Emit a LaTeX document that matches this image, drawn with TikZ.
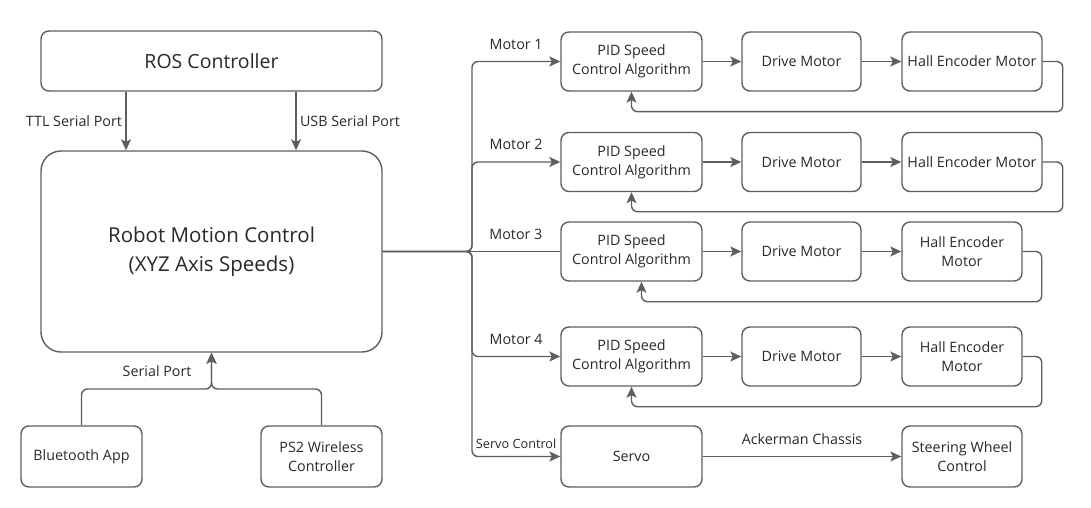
\documentclass[tikz,border=0pt]{standalone}
\usepackage{fontspec}
\setmainfont{Open Sans}
\usepackage{tikz}
\usetikzlibrary{arrows.meta}
\definecolor{linegray}{RGB}{94,94,94}
\definecolor{textgray}{RGB}{40,40,40}

\begin{document}
\begin{tikzpicture}[x=1pt,y=-1pt,
box/.style={draw=linegray,line width=1.4pt,rounded corners=8pt,align=center,text=textgray,inner sep=0pt,font=\fontsize{14.3}{18.7}\selectfont},
bigbox/.style={box,minimum width=341pt,font=\fontsize{19.5}{29}\selectfont},
pidbox/.style={box,minimum width=141pt,minimum height=59pt},
drvbox/.style={box,minimum width=119pt,minimum height=59pt},
arr/.style={draw=linegray,line width=1.4pt,-{Stealth[length=11pt,width=10pt,inset=2.5pt]}},
lbl/.style={text=textgray,font=\fontsize{14.3}{17}\selectfont}]
\useasboundingbox(0,0)rectangle(1091,508);
\node[bigbox,minimum height=60pt](ros)at(211.5,61){ROS Controller};
\node[bigbox,minimum height=201pt,rounded corners=20pt,font=\fontsize{20.5}{29}\selectfont](rmc)at(211.5,251.5){Robot Motion Control\\(XYZ Axis Speeds)};
\node[box,minimum width=121pt,minimum height=61pt](bt)at(81.5,456.5){Bluetooth App};
\node[box,minimum width=121pt,minimum height=61pt](ps2)at(321.5,456.5){PS2 Wireless\\Controller};
\node[pidbox](pid1)at(631.5,61.5){PID Speed\\Control Algorithm};
\node[pidbox](pid2)at(631.5,162){PID Speed\\Control Algorithm};
\node[pidbox](pid3)at(631.5,251.5){PID Speed\\Control Algorithm};
\node[pidbox](pid4)at(631.5,356.5){PID Speed\\Control Algorithm};
\node[drvbox](drv1)at(801.5,61.5){Drive Motor};
\node[drvbox](drv2)at(801.5,162){Drive Motor};
\node[drvbox](drv3)at(801.5,251.5){Drive Motor};
\node[drvbox](drv4)at(801.5,356.5){Drive Motor};
\node[box,minimum width=140pt,minimum height=59pt](hall1)at(972,61.5){Hall Encoder Motor};
\node[box,minimum width=140pt,minimum height=59pt](hall2)at(972,162){Hall Encoder Motor};
\node[drvbox,minimum width=120pt](hall3)at(962,251.5){Hall Encoder\\Motor};
\node[drvbox,minimum width=120pt](hall4)at(962,356.5){Hall Encoder\\Motor};
\node[box,minimum width=141pt,minimum height=61pt](servo)at(631.5,456.5){Servo};
\node[box,minimum width=120pt,minimum height=61pt](steer)at(962,456.5){Steering Wheel\\Control};
\coordinate(sp)at(211.5,389);
\coordinate(tr)at(472,251.5);
\draw[arr]([xshift=-85.5pt]ros.south)--node[lbl,left]{TTL Serial Port}([xshift=-85.5pt]rmc.north);
\draw[arr]([xshift=84.5pt]ros.south)--node[lbl,right]{USB Serial Port}([xshift=84.5pt]rmc.north);
\draw[arr,rounded corners=6pt](bt.north)|-(sp)--node[lbl,left=16pt]{Serial Port}(rmc.south);
\draw[arr,rounded corners=6pt](ps2.north)|-(sp)--(rmc.south);
\draw[arr,rounded corners=6pt](rmc.east)--(tr)|-node[lbl,pos=0.75,above=8pt]{Motor 1}(pid1.west);
\draw[arr,rounded corners=6pt](rmc.east)--(tr)|-node[lbl,pos=0.75,above=8pt]{Motor 2}(pid2.west);
\draw[draw=linegray,line width=1.4pt](rmc.east)--node[lbl,pos=0.75,above=8pt]{Motor 3}(pid3.west);
\draw[arr,rounded corners=6pt](rmc.east)--(tr)|-node[lbl,pos=0.75,above=8pt]{Motor 4}(pid4.west);
\draw[arr,rounded corners=6pt](rmc.east)--(tr)|-node[lbl,pos=0.75,above=4pt,font=\fontsize{12.7}{15}\selectfont]{Servo Control}(servo.west);
\draw[arr](pid1.east)--(drv1.west);
\draw[arr](pid2.east)--(drv2.west);
\draw[arr](pid3.east)--(drv3.west);
\draw[arr](pid4.east)--(drv4.west);
\draw[arr](drv1.east)--(hall1.west);
\draw[arr](drv2.east)--(hall2.west);
\draw[arr](drv3.east)--(hall3.west);
\draw[arr](drv4.east)--(hall4.west);
\draw[arr,rounded corners=6pt](hall1.east)--++(20,0)|-([yshift=-20pt]pid1.south)--(pid1.south);
\draw[arr,rounded corners=6pt](hall2.east)--++(20,0)|-([yshift=-19.5pt]pid2.south)--(pid2.south);
\draw[arr,rounded corners=6pt](hall3.east)--++(19,0)|-([xshift=10pt,yshift=-20pt]pid3.south)--([xshift=10pt]pid3.south);
\draw[arr,rounded corners=6pt](hall4.east)--++(19,0)|-([yshift=-20pt]pid4.south)--(pid4.south);
\draw[arr](servo.east)--node[lbl,above=8pt]{Ackerman Chassis}(steer.west);
\end{tikzpicture}
\end{document}
